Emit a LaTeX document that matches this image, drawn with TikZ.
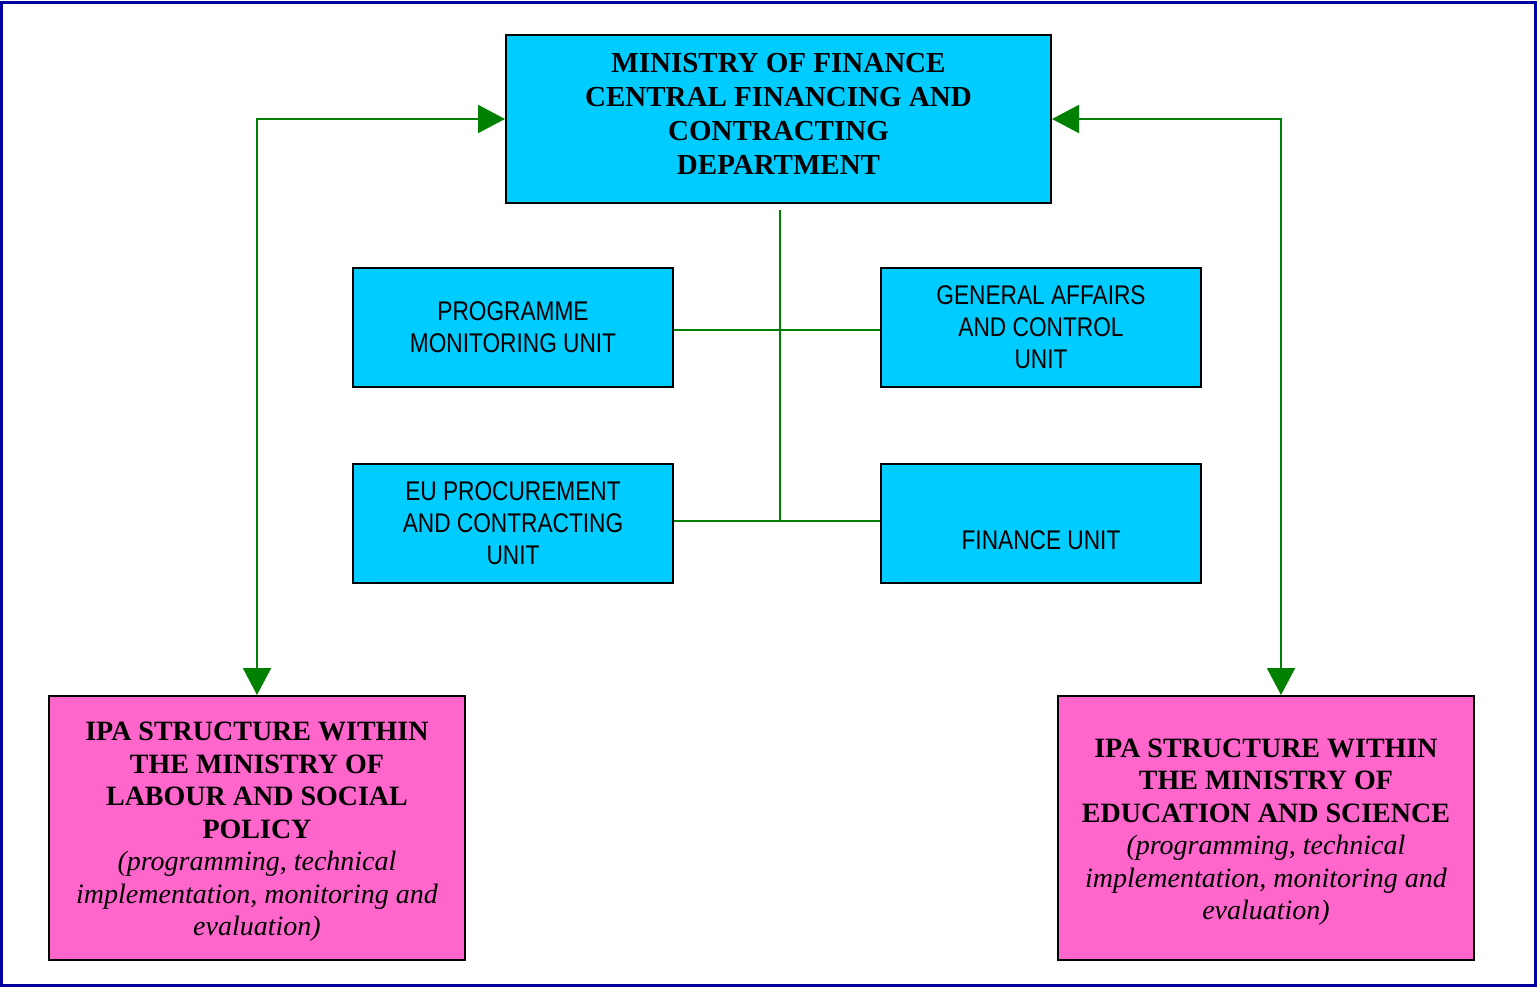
\documentclass[tikz,border=0pt]{standalone}
\usepackage{fontspec}
\setmainfont{Liberation Serif}
\newfontfamily\narrowsans[FakeStretch=0.84]{Liberation Sans}
\usetikzlibrary{arrows.meta}
\definecolor{boxcyan}{HTML}{00CCFF}
\definecolor{boxpink}{HTML}{FF66CC}
\definecolor{linkgreen}{HTML}{008000}
\definecolor{framenavy}{HTML}{0000A0}
\tikzset{
  unitbox/.style={draw=black, line width=2pt, fill=boxcyan, inner sep=0pt,
    minimum width=320pt, minimum height=119pt, align=center,
    font=\narrowsans\fontsize{27}{32}\selectfont},
  headbox/.style={draw=black, line width=2pt, fill=boxcyan, inner sep=0pt,
    minimum width=545pt, minimum height=168pt},
  headtext/.style={align=center, inner sep=0pt,
    font=\bfseries\fontsize{29}{34}\selectfont},
  ipabox/.style={draw=black, line width=2pt, fill=boxpink, inner sep=0pt,
    minimum width=416pt, minimum height=264pt},
  ipatext/.style={align=center, inner sep=0pt,
    font=\fontsize{28}{32.5}\selectfont},
  link/.style={draw=linkgreen, line width=2pt},
  biarrow/.style={link, {Triangle[length=27pt,width=28pt]}-{Triangle[length=27pt,width=28pt]}}
}
\begin{document}
\begin{tikzpicture}[x=1pt,y=-1pt]
\useasboundingbox (0,0) rectangle (1537,988);
\draw[framenavy, line width=3pt] (1.5,2.5) rectangle (1535,985.5);

\node[headbox] (mof) at (778.5,119) {};
\node[headtext] (moftext) at (778.5,113.5) {MINISTRY OF FINANCE\\CENTRAL FINANCING AND\\CONTRACTING\\DEPARTMENT};

\node[unitbox] (pmu) at (513,327.5) {PROGRAMME\\MONITORING UNIT};
\node[unitbox] (gac) at (1041,327.5) {GENERAL AFFAIRS\\AND CONTROL\\UNIT};
\node[unitbox] (epc) at (513,523.5) {EU PROCUREMENT\\AND CONTRACTING\\UNIT};
\node[unitbox] (fin) at (1041,523.5) {};
\node[font=\narrowsans\fontsize{27}{32}\selectfont, inner sep=0pt] (fintext) at (1041,540) {FINANCE UNIT};

\node[ipabox] (ipa1) at (257,828) {};
\node[ipatext] (ipa1text) at (257,832) {\textbf{IPA STRUCTURE WITHIN}\\\textbf{THE MINISTRY OF}\\\textbf{LABOUR AND SOCIAL}\\\textbf{POLICY}\\\textit{(programming, technical}\\\textit{implementation, monitoring and}\\\textit{evaluation)}};
\node[ipabox] (ipa2) at (1266,828) {};
\node[ipatext] (ipa2text) at (1266,832) {\textbf{IPA STRUCTURE WITHIN}\\\textbf{THE MINISTRY OF}\\\textbf{EDUCATION AND SCIENCE}\\\textit{(programming, technical}\\\textit{implementation, monitoring and}\\\textit{evaluation)}};

\coordinate (jtop) at (780,210);
\coordinate (jmid) at (780,330);
\coordinate (jbot) at (780,521);
\draw[link] (jtop) -- (jbot);
\draw[link] (pmu.east |- jmid) -- (gac.west |- jmid);
\draw[link] (epc.east |- jbot) -- (fin.west |- jbot);

\coordinate (rdrop) at (1281,695);
\draw[biarrow] (ipa1.north) |- (mof.west);
\draw[biarrow] (rdrop) |- (mof.east);
\end{tikzpicture}
\end{document}
